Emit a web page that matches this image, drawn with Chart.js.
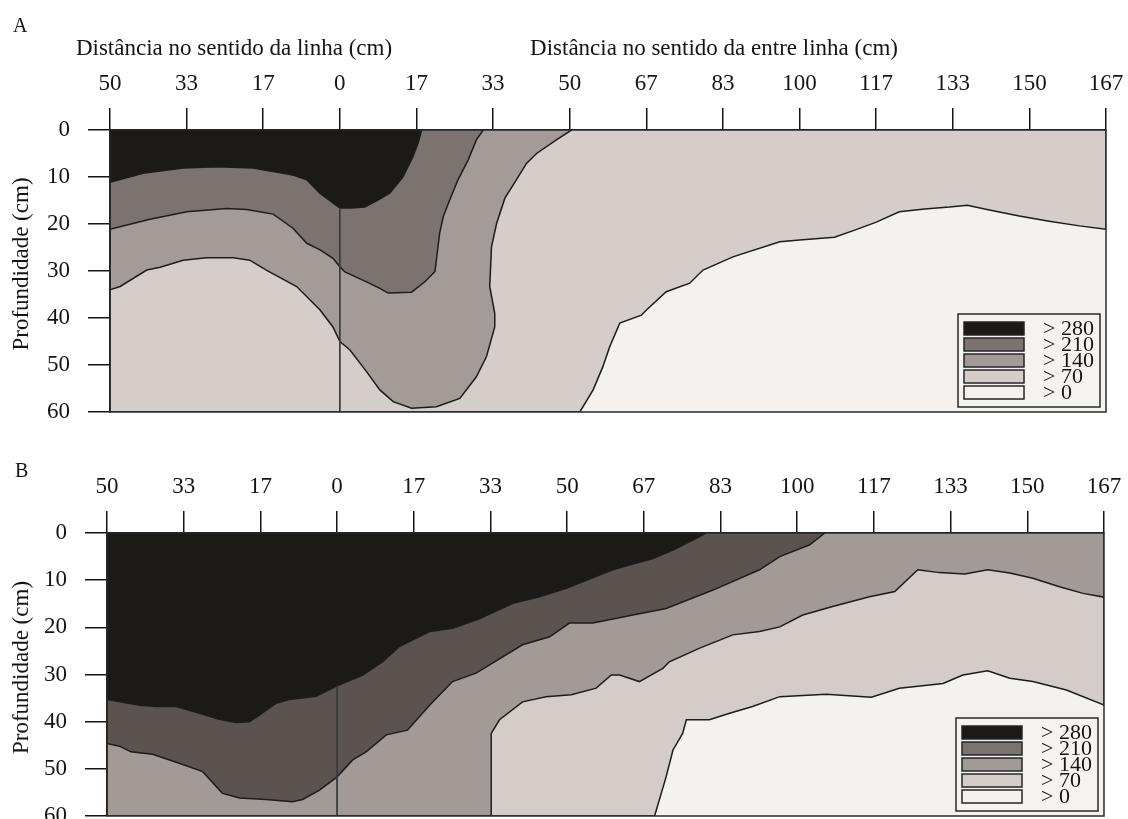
<!DOCTYPE html>
<html>
<head>
<meta charset="utf-8">
<script src="https://cdn.jsdelivr.net/npm/chart.js@4.4.1/dist/chart.umd.min.js"></script>
<style>
    html, body { margin: 0; padding: 0; background: #fff; overflow: hidden; }
    body { width: 1128px; height: 819px; position: relative; }
    canvas { position: absolute; left: 0; }
    #chartA { top: 0; }
    #chartB { top: 425px; }
</style>
</head>
<body>
<canvas id="chartA" width="1128" height="425"></canvas>
<canvas id="chartB" width="1128" height="410"></canvas>
<script>
// axis ranges (cm)
const X_MIN = -50;
const X_MAX = 500 / 3;
const Y_MAX = 60;

const xTickLabels = ["50", "33", "17", "0", "17", "33", "50", "67", "83", "100", "117", "133", "150", "167"];
const xTickValues = xTickLabels.map((_, i) => X_MIN + i * 50 / 3);
const yTickValues = [0, 10, 20, 30, 40, 50, 60];
const classLabels = ["> 280", "> 210", "> 140", "> 70", "> 0"];

// panel A contour lines [distance, depth]
const a280 = [[-50, 11.1], [-42.8, 9.2], [-34.1, 8.1], [-26.7, 7.8], [-18.9, 8.1], [-10.2, 9.6], [-7.2, 10.6],
    [-4.3, 13.5], [-2.9, 14.5], [0, 16.6], [2.6, 16.6], [5.4, 16.4], [8.3, 14.9], [10.9, 13.4], [13.7, 10],
    [15.9, 5.7], [17, 2.8], [17.8, 0]];
const a210 = [[-50, 21.1], [-41.3, 19], [-33.3, 17.4], [-24.6, 16.7], [-20.3, 16.9], [-14.5, 17.9], [-10.2, 20.9],
    [-7.2, 24.1], [-4.3, 25.5], [-1.5, 27.3], [0, 29.1], [1.1, 30.2], [5.8, 32.3], [8.7, 33.7], [10.5, 34.7],
    [15.6, 34.5], [18.5, 32.3], [20.7, 30.1], [21.7, 22], [22.5, 18.4], [23.9, 14.9], [25.7, 10.6], [27.9, 6.4],
    [29.7, 2.1], [31.2, 0]];
const a140 = [[-50, 34], [-47.8, 33.3], [-42, 29.8], [-39.1, 29.2], [-34.1, 27.7], [-29, 27.2], [-23.2, 27.2],
    [-19.6, 27.7], [-16, 29.8], [-9.4, 33.3], [-4.3, 38.3], [-1.5, 41.9], [0, 45], [2.2, 46.8], [5.8, 51.4],
    [8.7, 55.3], [11.6, 57.8], [15.6, 59.2], [21, 58.9], [26.1, 57.1], [29.7, 52.5], [31.9, 48.2], [33.7, 41.9],
    [33.7, 39], [32.6, 33.3], [33, 24.8], [34.1, 19.9], [35.9, 14.5], [38.4, 10.6], [40.6, 7.1], [42.8, 5],
    [47.1, 2.1], [50.4, 0]];
const a70 = [[52.2, 60], [55.1, 55.3], [57.2, 50.4], [58.7, 46.1], [60.9, 41.1], [65.6, 39.4], [66.7, 38.3],
    [71, 34.4], [76.1, 32.6], [79, 29.8], [85.5, 27], [95.7, 23.8], [100, 23.4], [107.6, 22.8], [112, 21.3],
    [116.7, 19.6], [121.7, 17.4], [127.2, 16.8], [132.6, 16.4], [136.5, 16], [141.3, 17], [147.8, 18.3],
    [154.3, 19.4], [160.9, 20.4], [166.7, 21.1]];
const aStem = [[0, 16.6], [0, 60]];

// panel B contour lines [distance, depth]
const b280 = [[-50, 35.3], [-42.9, 36.5], [-39.3, 36.8], [-35, 36.8], [-29.9, 38.2], [-25.6, 39.5], [-22, 40.2],
    [-19.1, 40], [-17.3, 38.9], [-13.3, 36.1], [-10.4, 35.3], [-4.6, 34.6], [0, 32.4], [5.6, 30.1], [9.9, 27.3],
    [13.5, 24.1], [20.1, 20.9], [25.1, 20.2], [30.9, 18.2], [38.2, 14.9], [44, 13.5], [49.8, 11.7], [59.9, 7.8],
    [63.5, 6.8], [68.6, 5.4], [73, 3.6], [77.3, 1.5], [80.2, 0]];
const b210 = [[-50, 44.6], [-47.3, 45.2], [-44.8, 46.4], [-40.1, 46.9], [-34.3, 48.8], [-29.2, 50.6], [-24.9, 55.2],
    [-21.2, 56.2], [-15.4, 56.5], [-9.7, 57], [-7.5, 56.5], [-3.8, 54.5], [0, 51.7], [3.4, 48.1], [6.3, 46.4],
    [10.7, 42.8], [15.3, 41.8], [20.1, 36.5], [25.1, 31.5], [30.2, 29.7], [40.3, 23.7], [46.2, 22], [50.5, 19.1],
    [55.6, 19.1], [64.3, 17.4], [71.5, 16], [81.7, 12.1], [91.8, 7.8], [96.2, 5], [102.7, 2.5], [106, 0]];
const b140 = [[33.5, 60], [33.5, 49.5], [33.5, 42.5], [35.3, 39.6], [40.3, 35.8], [45.4, 34.7], [50.9, 34.3],
    [56.3, 32.9], [59.6, 30.1], [61.4, 30.1], [65.7, 31.5], [70.8, 28.7], [72.2, 27.3], [78.8, 24.4], [86, 21.6],
    [91.8, 20.9], [96.2, 19.9], [101.2, 17.4], [107.7, 15.6], [115.7, 13.5], [121.2, 12.4], [126.2, 7.8],
    [130.9, 8.4], [136.4, 8.7], [141.4, 7.8], [146.2, 8.5], [151.2, 9.6], [157, 11.4], [162.1, 12.8], [166.7, 13.6]];
const b70 = [[69, 60], [71.5, 51.7], [73, 46], [75.1, 42.5], [75.9, 39.6], [80.9, 39.6], [85.3, 38.2], [90.3, 36.8],
    [96.2, 34.7], [106.3, 34.2], [116.1, 34.8], [122.2, 32.9], [131.7, 31.9], [136, 30.1], [141.4, 29.2],
    [146.2, 30.8], [151.2, 31.5], [158.5, 33.3], [166.7, 36.5]];
const bStem = [[0, 32.4], [0, 60]];

const legendColors = ["#1b1a17", "#7b7370", "#a29a96", "#d4cdc9", "#f4f1ef"];
const colorsA = ["#1b1a17", "#7b7370", "#a39b97", "#d4cdc9"];
const colorsB = ["#1b1a17", "#5b5350", "#a29a96", "#d3ccc8"];

const FONT = "'Liberation Serif', 'Times New Roman', serif";
const INK = "#141414";
const LINE_COLOR = "#1c1c1c";

// close a contour line into the region above/left of it
function regionShape(line) {
    const pts = [[X_MIN, 0]];
    const first = line[0];
    const last = line[line.length - 1];
    if (first[0] > X_MIN) pts.push([X_MIN, Y_MAX]);
    pts.push(...line);
    if (last[1] > 0) pts.push([X_MAX, 0]);
    return pts.map(([x, y]) => ({ x, y }));
}

const panelDecor = {
    id: "panelDecor",
    beforeDatasetsDraw(chart) {
        const { ctx, chartArea: ca } = chart;
        ctx.save();
        ctx.fillStyle = legendColors[4];
        ctx.fillRect(ca.left, ca.top, ca.right - ca.left, ca.bottom - ca.top);
        ctx.restore();
    },
    afterDraw(chart, args, o) {
        const { ctx, chartArea: ca } = chart;
        ctx.save();

        ctx.strokeStyle = "#2a2a2a";
        ctx.lineWidth = 1.5;
        ctx.strokeRect(ca.left, ca.top, ca.right - ca.left, ca.bottom - ca.top);

        ctx.fillStyle = INK;
        ctx.textBaseline = "alphabetic";
        ctx.textAlign = "left";
        ctx.font = `20px ${FONT}`;
        ctx.fillText(o.letter, o.letterX, o.letterY);

        ctx.font = `23px ${FONT}`;
        ctx.textAlign = "center";
        o.xTitles.forEach(t => ctx.fillText(t.text, t.x, t.y));

        ctx.save();
        ctx.translate(22, (ca.top + ca.bottom) / 2 - 7);
        ctx.rotate(-Math.PI / 2);
        ctx.textBaseline = "middle";
        ctx.fillText("Profundidade (cm)", 0, 0);
        ctx.restore();

        // legend box
        const boxW = 142, boxH = 93;
        const bx = ca.right - 6 - boxW;
        const by = ca.bottom - 5 - boxH;
        ctx.fillStyle = "#f5f3f1";
        ctx.fillRect(bx, by, boxW, boxH);
        ctx.strokeStyle = "#2a2a2a";
        ctx.lineWidth = 1.5;
        ctx.strokeRect(bx, by, boxW, boxH);

        ctx.font = `22px ${FONT}`;
        ctx.textAlign = "left";
        ctx.textBaseline = "middle";
        classLabels.forEach((label, i) => {
            const sy = by + 8 + i * 16;
            ctx.fillStyle = legendColors[i];
            ctx.fillRect(bx + 6, sy, 60, 13);
            ctx.strokeStyle = "#262626";
            ctx.strokeRect(bx + 6, sy, 60, 13);
            ctx.fillStyle = INK;
            ctx.fillText(label, bx + 85, sy + 7);
        });

        ctx.restore();
    }
};

function getDatasets(cfg) {
    const stem = {
        data: cfg.stem.map(([x, y]) => ({ x, y })),
        showLine: true,
        fill: false,
        borderColor: "#3a3a3a",
        borderWidth: 1,
        pointRadius: 0
    };
    const regions = cfg.lines.map((line, i) => ({
        label: classLabels[i],
        data: regionShape(line),
        showLine: true,
        fill: "shape",
        backgroundColor: cfg.colors[i],
        borderColor: LINE_COLOR,
        borderWidth: 1.5,
        pointRadius: 0
    }));
    return [stem, ...regions];
}

function getScales(cfg) {
    const tickFont = { family: FONT, size: 23 };
    const grid = { display: true, drawOnChartArea: false, drawTicks: true, tickLength: 22, color: INK, lineWidth: 1.5 };
    const border = { display: true, color: INK, width: 1.5 };

    return {
        x: {
            type: "linear",
            position: "top",
            min: X_MIN,
            max: X_MAX,
            grid,
            border,
            afterBuildTicks: scale => {
                scale.ticks = xTickValues.map(value => ({ value }));
            },
            afterFit: scale => {
                scale.height = cfg.xAxisHeight;
                scale.paddingLeft = 0;
                scale.paddingRight = 0;
            },
            ticks: {
                font: tickFont,
                color: INK,
                padding: 10,
                maxRotation: 0,
                autoSkip: false,
                callback: (value, index) => xTickLabels[index]
            }
        },
        y: {
            type: "linear",
            position: "left",
            reverse: true,
            min: 0,
            max: Y_MAX,
            grid,
            border,
            afterBuildTicks: scale => {
                scale.ticks = yTickValues.map(value => ({ value }));
            },
            afterFit: scale => {
                scale.width = cfg.yAxisWidth;
                scale.paddingTop = 0;
                scale.paddingBottom = 0;
            },
            ticks: {
                font: tickFont,
                color: INK,
                padding: 18,
                callback: value => String(value)
            }
        }
    };
}

function buildChart(canvasId, cfg) {
    return new Chart(document.getElementById(canvasId), {
        type: "scatter",
        data: { datasets: getDatasets(cfg) },
        options: {
            responsive: false,
            animation: false,
            events: [],
            layout: { padding: cfg.padding },
            plugins: {
                legend: { display: false },
                tooltip: { enabled: false },
                panelDecor: cfg.decor
            },
            scales: getScales(cfg)
        },
        plugins: [panelDecor]
    });
}

buildChart("chartA", {
    lines: [a280, a210, a140, a70],
    stem: aStem,
    colors: colorsA,
    xAxisHeight: 130,
    yAxisWidth: 110,
    padding: { left: 0, right: 22, top: 0, bottom: 13 },
    decor: {
        letter: "A", letterX: 13, letterY: 32,
        xTitles: [
            { text: "Distância no sentido da linha (cm)", x: 234, y: 55 },
            { text: "Distância no sentido da entre linha (cm)", x: 714, y: 55 }
        ]
    }
});

buildChart("chartB", {
    lines: [b280, b210, b140, b70],
    stem: bStem,
    colors: colorsB,
    xAxisHeight: 108,
    yAxisWidth: 107,
    padding: { left: 0, right: 24, top: 0, bottom: 19 },
    decor: {
        letter: "B", letterX: 15, letterY: 52,
        xTitles: []
    }
});
</script>
</body>
</html>
